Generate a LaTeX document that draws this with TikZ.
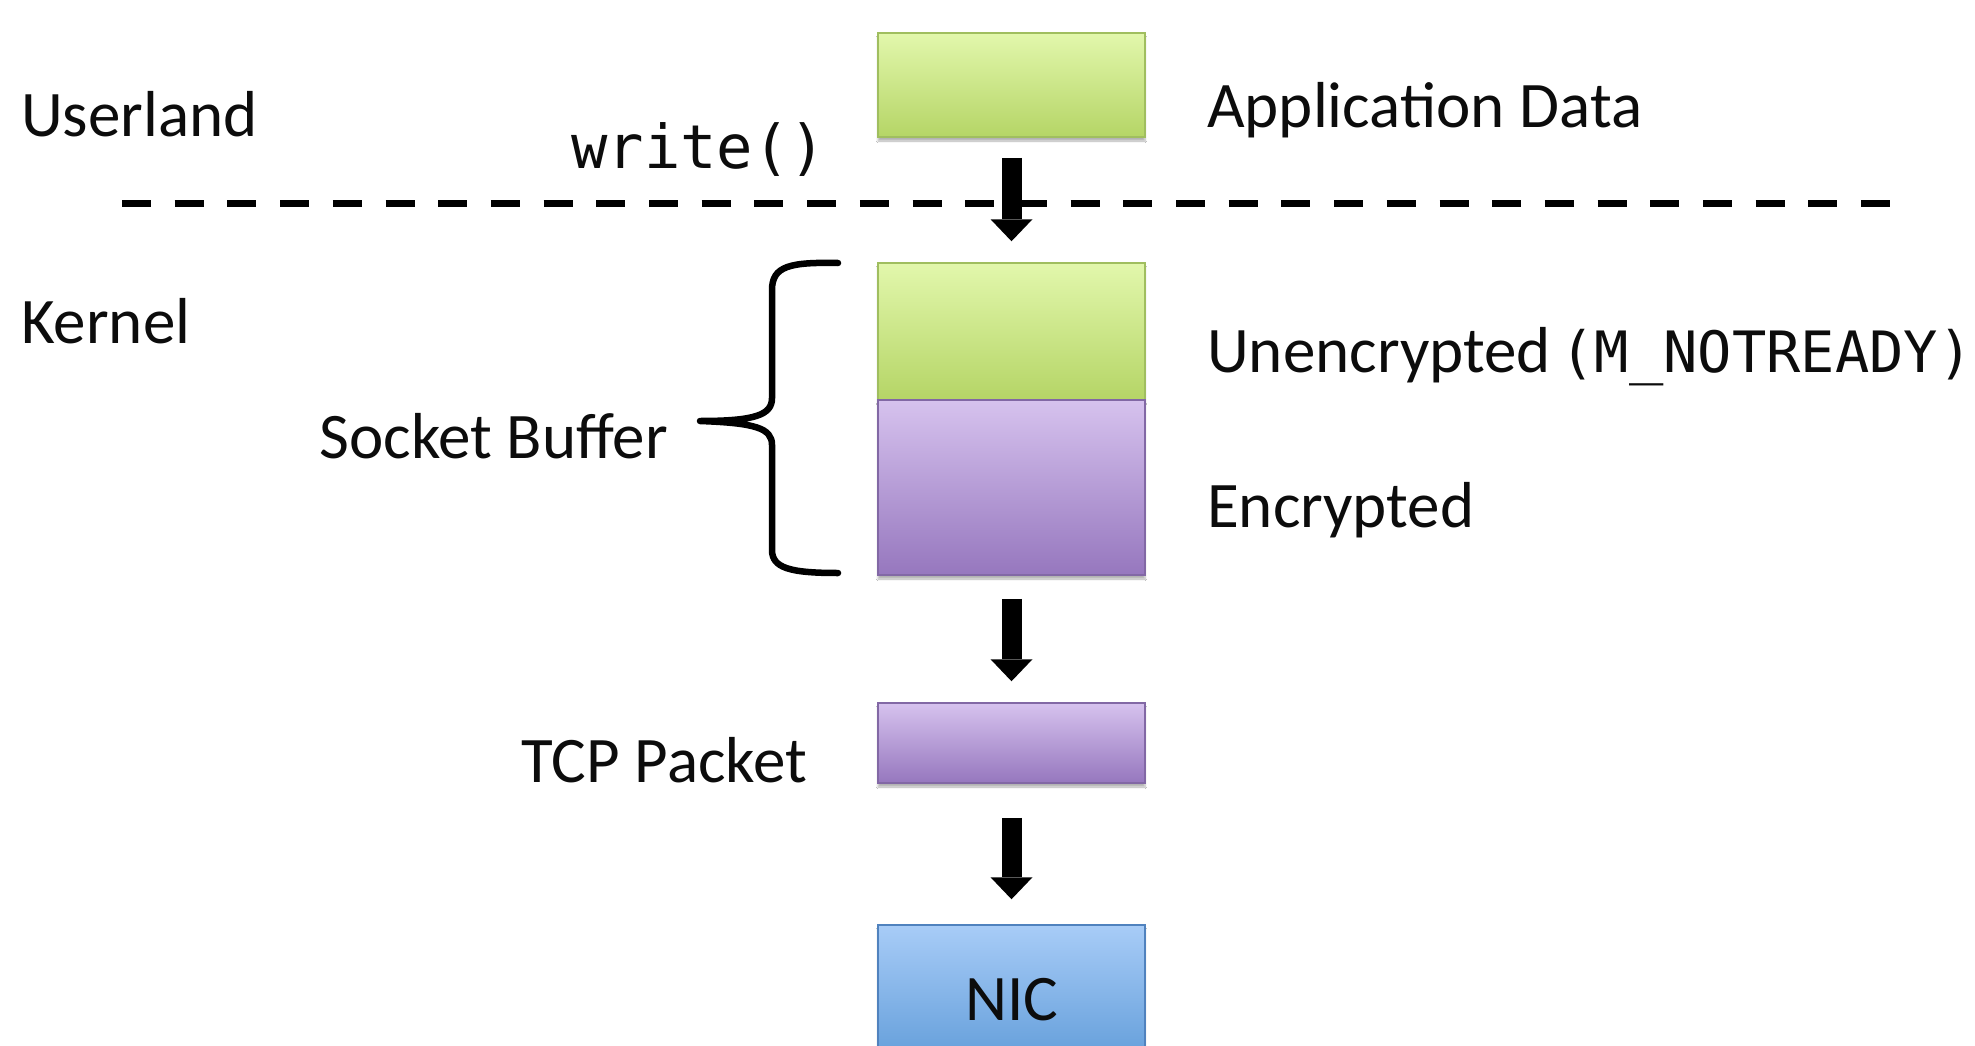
\documentclass[tikz,border=0pt]{standalone}
\usepackage{fontspec}
\setmainfont{Carlito}
\newfontfamily\codefont{DejaVu Sans Mono}
\usetikzlibrary{arrows.meta,shadows.blur}
\definecolor{txt}{RGB}{12,12,12}
\definecolor{gTop}{RGB}{226,247,172}
\definecolor{gBot}{RGB}{181,213,102}
\definecolor{gLine}{RGB}{160,190,95}
\definecolor{pTop}{RGB}{214,194,238}
\definecolor{pBot}{RGB}{150,119,190}
\definecolor{pLine}{RGB}{130,104,165}
\definecolor{bTop}{RGB}{168,204,247}
\definecolor{bBot}{RGB}{92,153,215}
\definecolor{bLine}{RGB}{80,130,190}
\tikzset{
  lbl/.style={inner sep=0pt, text=txt, font=\fontsize{65}{78}\selectfont},
  codelbl/.style={inner sep=0pt, text=txt, font=\codefont\fontsize{60.5}{72}\selectfont},
  boxbase/.style={rectangle, minimum width=267pt, inner sep=0pt, line width=1.5pt,
     blur shadow={shadow xshift=0pt, shadow yshift=-4pt, shadow blur steps=6, shadow opacity=30},
     text=txt, font=\fontsize{65}{78}\selectfont},
  greenbox/.style={boxbase, draw=gLine, top color=gTop, bottom color=gBot},
  purplebox/.style={boxbase, draw=pLine, top color=pTop, bottom color=pBot},
  bluebox/.style={boxbase, draw=bLine, top color=bTop, bottom color=bBot},
  blockarrow/.style={line width=20pt, draw=black, -{Triangle[width=42pt,length=22pt,line width=0pt]}},
  divider/.style={line width=7pt, draw=black, dash pattern=on 29pt off 23.7pt},
  bracepath/.style={line width=6.5pt, draw=black, line join=round, line cap=round}
}
\begin{document}
\begin{tikzpicture}[x=1pt,y=-1pt]
\useasboundingbox[fill=white] (0,0) rectangle (1975,1046);

% divider
\coordinate (dl1) at (122,203);
\coordinate (dl2) at (1890,203);
\draw[divider] (dl1) -- (dl2);

% boxes
\node[greenbox, minimum height=104pt] (app) at (1011.5,85) {};
\node[greenbox, minimum height=137pt] (unenc) at (1011.5,331.5) {};
\node[purplebox, minimum height=175pt] (enc) at (1011.5,487.5) {};
\node[purplebox, minimum height=80pt] (tcp) at (1011.5,743) {};
\node[bluebox, minimum height=150pt] (nic) at (1011.5,1000) {NIC};

% arrows
\draw[blockarrow, shorten <=20pt, shorten >=21pt] (app.south) -- (unenc.north);
\draw[blockarrow, shorten <=23pt, shorten >=21pt] (enc.south) -- (tcp.north);
\draw[blockarrow, shorten <=34pt, shorten >=25pt] (tcp.south) -- (nic.north);

% brace
\draw[bracepath] (838,263) .. controls (790,262) and (772,266) .. (772,290)
  -- (772,398) .. controls (772,415) and (755,421) .. (700,421)
  .. controls (755,423) and (772,428) .. (772,445)
  -- (772,550) .. controls (772,568) and (790,573) .. (838,573);

% labels
\node[lbl, anchor=base west] (userland) at (21,136) {Userland};
\node[codelbl, anchor=base west] (write) at (571,168) {write()};
\node[lbl, anchor=base west] (appdata) at (1207,128) {Application Data};
\node[lbl, anchor=base west] (kernel) at (21,343) {Kernel};
\node[lbl, anchor=base west] (unenclbl) at (1207,372) {Unencrypted\hspace{0.15em}{\codefont\fontsize{57}{70}\selectfont(M\_NOTREADY)}};
\node[lbl, anchor=base east] (sockbuf) at (668,458) {Socket Buffer};
\node[lbl, anchor=base west] (enclbl) at (1207,527) {Encrypted};
\node[lbl, anchor=base east] (tcplbl) at (807,782) {TCP Packet};
\end{tikzpicture}
\end{document}
